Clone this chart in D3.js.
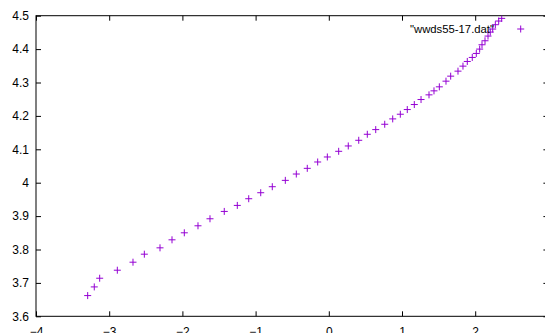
<!DOCTYPE html>
<html>
<head>
<meta charset="utf-8">
<script src="https://cdn.jsdelivr.net/npm/d3@7"></script>
<style>
  body { margin: 0; background: #fff; }
  svg { display: block; font-family: "Liberation Sans", Arial, sans-serif; }
  .axis text { font-size: 12px; fill: #000; }
  .axis line { stroke: #000; }
  .axis path { display: none; }
</style>
</head>
<body>
<div id="chart"></div>
<script>
// values
const xVals = [-3.294, -3.204, -3.130, -2.889, -2.675, -2.520, -2.306, -2.142, -1.974,
  -1.787, -1.623, -1.428, -1.250, -1.094, -0.930, -0.772, -0.594, -0.444,
  -0.294, -0.152, -0.020, 0.135, 0.266, 0.409, 0.526, 0.641, 0.764, 0.873, 0.977, 1.072,
  1.168, 1.260, 1.369, 1.437, 1.510, 1.601, 1.665, 1.765, 1.833, 1.892, 1.960,
  2.015, 2.061, 2.093, 2.134, 2.175, 2.206, 2.239, 2.275, 2.321, 2.362];
const yVals = [3.662, 3.688, 3.714, 3.738, 3.762, 3.786, 3.805, 3.829, 3.850,
  3.871, 3.892, 3.914, 3.932, 3.952, 3.970, 3.988, 4.007, 4.026,
  4.043, 4.062, 4.077, 4.094, 4.110, 4.127, 4.145, 4.159, 4.175, 4.191, 4.205, 4.219,
  4.234, 4.249, 4.263, 4.275, 4.287, 4.304, 4.319, 4.334, 4.349, 4.363, 4.375,
  4.387, 4.400, 4.413, 4.425, 4.439, 4.451, 4.460, 4.473, 4.484, 4.492];
const xTicks = [-4, -3, -2, -1, 0, 1, 2, 3];
const yTicks = [3.6, 3.7, 3.8, 3.9, 4.0, 4.1, 4.2, 4.3, 4.4, 4.5];
const seriesName = '"wwds55-17.dat"';

const width = 545, height = 333;
const margin = { top: 15.7, left: 36, right: 548.4, bottom: 316.3 };
const color = '#9400d3';

const data = xVals.map((x, i) => ({ x: x, y: yVals[i] }));

const svg = d3.select('#chart').append('svg')
  .attr('width', width)
  .attr('height', height);

const xScale = d3.scaleLinear().domain([-4, 3]).range([margin.left, margin.right]);
const yScale = d3.scaleLinear().domain([3.6, 4.5]).range([margin.bottom, margin.top]);

// axes with inward ticks, mirrored on top and right
svg.append('g')
  .attr('class', 'axis axis-x')
  .attr('transform', `translate(0, ${margin.bottom})`)
  .call(d3.axisBottom(xScale).tickValues(xTicks).tickSize(-5).tickPadding(11)
    .tickFormat(d3.format('d')));

svg.append('g')
  .attr('class', 'axis axis-x2')
  .attr('transform', `translate(0, ${margin.top})`)
  .call(d3.axisTop(xScale).tickValues(xTicks).tickSize(-5).tickFormat(''));

svg.append('g')
  .attr('class', 'axis axis-y')
  .attr('transform', `translate(${margin.left}, 0)`)
  .call(d3.axisLeft(yScale).tickValues(yTicks).tickSize(-5).tickPadding(7)
    .tickFormat(d => d3.format('.1f')(d).replace(/\.0$/, '')));

svg.append('g')
  .attr('class', 'axis axis-y2')
  .attr('transform', `translate(${margin.right}, 0)`)
  .call(d3.axisRight(yScale).tickValues(yTicks).tickSize(-5).tickFormat(''));

// border
svg.append('rect')
  .attr('x', margin.left)
  .attr('y', margin.top)
  .attr('width', margin.right - margin.left)
  .attr('height', margin.bottom - margin.top)
  .attr('fill', 'none')
  .attr('stroke', '#000')
  .attr('stroke-width', 1);

svg.append('clipPath').attr('id', 'plot-clip')
  .append('rect')
  .attr('x', margin.left).attr('y', margin.top)
  .attr('width', margin.right - margin.left)
  .attr('height', margin.bottom - margin.top);

const plus = (sel) => sel.attr('d', 'M-3.5,0H3.5M0,-3.5V3.5')
  .attr('stroke', color).attr('stroke-width', 1).attr('fill', 'none');

svg.append('g')
  .attr('clip-path', 'url(#plot-clip)')
  .selectAll('path')
  .data(data)
  .join('path')
  .attr('transform', d => `translate(${xScale(d.x)}, ${yScale(d.y)})`)
  .call(plus);

// key
const key = svg.append('g').attr('transform', 'translate(0, 29)');
key.append('text')
  .attr('x', 494)
  .attr('y', 4)
  .attr('text-anchor', 'end')
  .style('font-size', '11.3px')
  .text(seriesName);
key.append('path')
  .attr('transform', 'translate(520.7, 0)')
  .call(plus);
</script>
</body>
</html>
